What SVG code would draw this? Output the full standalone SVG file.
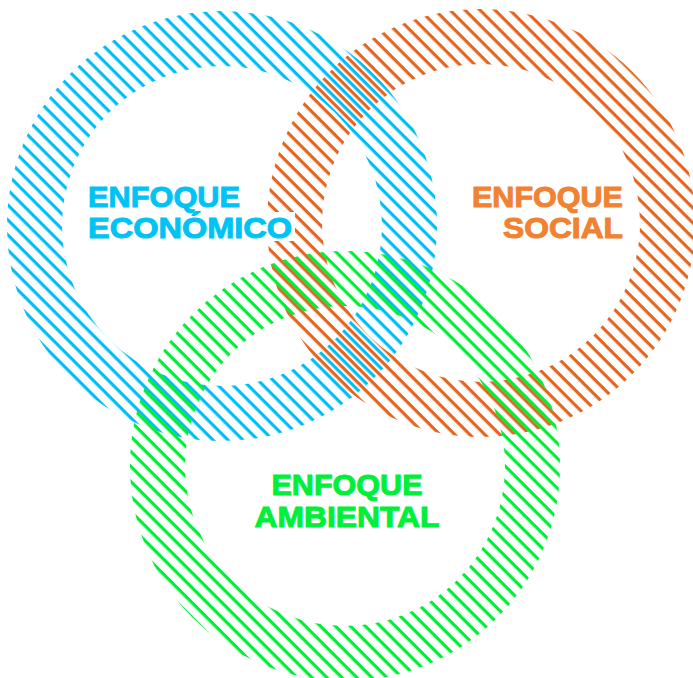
<svg xmlns="http://www.w3.org/2000/svg" width="693" height="678" viewBox="0 0 693 678">
  <defs>
    <pattern id="hatchBlue" patternUnits="userSpaceOnUse" width="10.6" height="10.6" patternTransform="rotate(45)">
      <rect x="0" y="0" width="10.6" height="3.2" fill="#00BEF5"/>
    </pattern>
    <pattern id="hatchOrange" patternUnits="userSpaceOnUse" width="10.6" height="10.6" y="5.3" patternTransform="rotate(45)">
      <rect x="0" y="0" width="10.6" height="3.2" fill="#E5651F"/>
    </pattern>
    <pattern id="hatchGreen" patternUnits="userSpaceOnUse" width="10.6" height="10.6" y="2.6" patternTransform="rotate(45)">
      <rect x="0" y="0" width="10.6" height="3.2" fill="#00EE36"/>
    </pattern>
  </defs>
  <style>
    .ring { fill: none; stroke-width: 55; }
    .lbl { font-family: "Liberation Sans", Arial, sans-serif; font-weight: bold; font-size: 30px; stroke-width: 1px; }
    .blue { fill: #00C3F5; stroke: #00C3F5; }
    .orange { fill: #F08232; stroke: #F08232; }
    .green { fill: #00F03A; stroke: #00F03A; }
  </style>
  <g id="connectors"></g>
  <g id="social">
    <circle class="ring" cx="481" cy="223" r="186.5" stroke="url(#hatchOrange)"/>
    <text class="lbl orange" text-anchor="end"><tspan x="623" y="206.5" textLength="151" lengthAdjust="spacingAndGlyphs">ENFOQUE</tspan><tspan x="623" y="237.5" textLength="120" lengthAdjust="spacingAndGlyphs">SOCIAL</tspan></text>
  </g>
  <g id="economico">
    <circle class="ring" cx="222" cy="226" r="187.5" stroke="url(#hatchBlue)"/>
    <rect x="86" y="212" width="209" height="29" fill="#FFFFFF"/>
    <text class="lbl blue"><tspan x="88" y="206.5" textLength="152" lengthAdjust="spacingAndGlyphs">ENFOQUE</tspan><tspan x="88" y="238" textLength="204" lengthAdjust="spacingAndGlyphs">ECONÓMICO</tspan></text>
  </g>
  <g id="ambiental">
    <circle class="ring" cx="345" cy="466" r="187.5" stroke="url(#hatchGreen)"/>
    <text class="lbl green" text-anchor="middle" style="font-size:29px"><tspan x="347" y="494.5" textLength="151" lengthAdjust="spacingAndGlyphs">ENFOQUE</tspan><tspan x="347" y="526.5" textLength="185" lengthAdjust="spacingAndGlyphs">AMBIENTAL</tspan></text>
  </g>
</svg>
